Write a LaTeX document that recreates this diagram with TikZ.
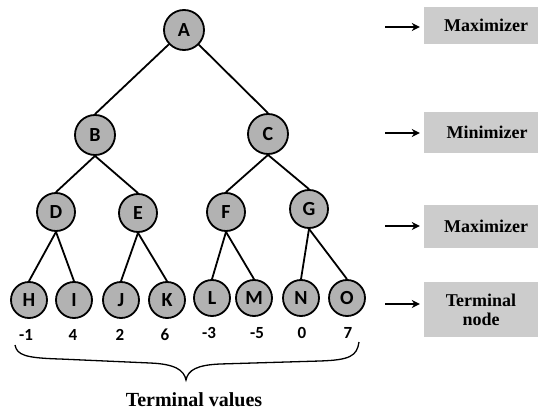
\documentclass[tikz,border=0pt]{standalone}
\usepackage{fontspec}
\newfontfamily\lettfont{Carlito}
\newfontfamily\serfont{Liberation Serif}
\usetikzlibrary{arrows.meta}
\definecolor{nodegray}{gray}{0.70}
\definecolor{boxgray}{gray}{0.80}
\tikzset{
  gnode/.style={circle, draw=black, line width=1.8pt, fill=nodegray,
    minimum size=40pt, inner sep=0pt, font=\lettfont\bfseries\fontsize{20}{20}\selectfont},
  lnode/.style={gnode, minimum size=36pt},
  edge/.style={line width=1.8pt},
  val/.style={font=\lettfont\bfseries\fontsize{17}{17}\selectfont, inner sep=0pt},
  tag/.style={fill=boxgray, inner sep=0pt, align=center,
    font=\serfont\bfseries\fontsize{18}{19}\selectfont},
  pointer/.style={line width=2pt, -{Stealth[length=8pt,width=8pt]}, shorten >=4pt}
}
\begin{document}
\begin{tikzpicture}[x=1pt,y=-1pt]
\useasboundingbox (0,0) rectangle (538,412);
\fill[white] (0,0) rectangle (538,412);

% game tree
\node[gnode] (A) at (184,30) {A};
\node[gnode] (B) at (95,135) {B};
\node[gnode] (C) at (268,134) {C};
\node[gnode, minimum size=38pt] (D) at (56,212) {D};
\node[gnode, minimum size=38pt] (E) at (138,213) {E};
\node[gnode, minimum size=38pt] (F) at (226,212) {F};
\node[gnode, minimum size=38pt] (G) at (309,209) {G};
\node[lnode] (H) at (29,300) {H};
\node[lnode] (I) at (74,300) {I};
\node[lnode] (J) at (121,300) {J};
\node[lnode] (K) at (167,300) {K};
\node[lnode] (L) at (212,298) {L};
\node[lnode] (M) at (254,298) {M};
\node[lnode] (N) at (301,298) {N};
\node[lnode] (O) at (347,298) {O};

\draw[edge] (A) -- (B.north);
\draw[edge] (A) -- (C.north);
\foreach \p/\a/\b in {B/D/E, C/F/G, D/H/I, E/J/K, F/L/M, G/N/O}{
  \draw[edge] (\p.south) -- (\a.north);
  \draw[edge] (\p.south) -- (\b.north);
}

% leaf values
\node[val] (vH) at (26,335) {-1};
\node[val] (vI) at (73,335) {4};
\node[val] (vJ) at (120,335) {2};
\node[val] (vK) at (165,335) {6};
\node[val] (vL) at (209,333) {-3};
\node[val] (vM) at (257,333) {-5};
\node[val] (vN) at (302,333) {0};
\node[val] (vO) at (348,333) {7};

% brace under the terminal values
\coordinate (bl) at (15,345);
\coordinate (bt) at (186,380);
\coordinate (br) at (359,342);
\draw[line width=1.3pt] (bl) .. controls (17,355) and (25,358) .. (60,359)
  -- (150,363) .. controls (175,364) and (184,370) .. (bt)
  .. controls (188,370) and (197,365) .. (220,364)
  -- (320,361) .. controls (350,360) and (357,356) .. (br);
\node[font=\serfont\bfseries\fontsize{20}{20}\selectfont, inner sep=0pt] (tv) at (194,400) {Terminal values};

% level labels
\node[tag, minimum width=114pt, minimum height=37pt] (m1) at (481,25.5) {\hspace*{10pt}Maximizer};
\node[tag, minimum width=114pt, minimum height=41pt] (m2) at (481,132.5) {\hspace*{12pt}Minimizer};
\node[tag, minimum width=114pt, minimum height=43pt] (m3) at (481,226.5) {\hspace*{10pt}Maximizer};
\node[tag, minimum width=114pt, minimum height=55pt] (m4) at (481,309.5) {Terminal\\node};

\coordinate (p1) at (385,27);
\coordinate (p2) at (385,133);
\coordinate (p3) at (385,226);
\coordinate (p4) at (385,304);
\draw[pointer] (p1) -- (p1 -| m1.west);
\draw[pointer] (p2) -- (p2 -| m2.west);
\draw[pointer] (p3) -- (p3 -| m3.west);
\draw[pointer] (p4) -- (p4 -| m4.west);
\end{tikzpicture}
\end{document}
